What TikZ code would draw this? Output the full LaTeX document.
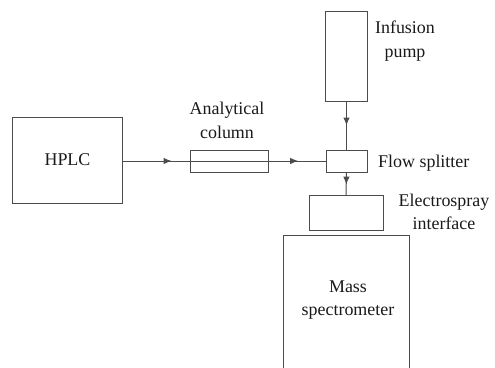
\documentclass[tikz,border=0pt]{standalone}
\usepackage{fontspec}
\setmainfont{Liberation Serif}
\usetikzlibrary{arrows.meta,decorations.markings}
\begin{document}
\begin{tikzpicture}[x=1bp,y=-1bp,
  box/.style={draw=black!70, line width=1bp, inner sep=0pt, outer sep=0pt},
  lbl/.style={font=\fontsize{18}{23.5}\selectfont, align=center, inner sep=0pt, text=black!90},
  flow/.style={draw=black!70, line width=1bp},
  midarrow/.style={postaction=decorate, decoration={markings, mark=at position #1 with {\arrow{Latex[length=8bp,width=6.5bp]}}}}
]
\useasboundingbox (0,0) rectangle (495,367);
% boxes
\node[box, lbl, minimum width=109bp, minimum height=86bp] (hplc) at (67.5,160) {HPLC};
\node[box, minimum width=78bp, minimum height=22bp] (col) at (229,161) {};
\node[box, minimum width=41bp, minimum height=22bp] (split) at (346.5,161) {};
\node[box, minimum width=42bp, minimum height=90bp] (pump) at (346.5,56) {};
\node[box, minimum width=74bp, minimum height=35bp] (es) at (346,212.5) {};
\coordinate (msbl) at (283,370);
\coordinate (msbr) at (409,370);
\draw[box] (msbl) -- (283,235) -- (409,235) -- (msbr);
% labels
\node[lbl] (collbl) at (227,120.5) {Analytical\\column};
\node[lbl] (pumplbl) at (405,41) {Infusion\\pump};
\node[lbl, anchor=base west] (splitlbl) at (378,167) {Flow splitter};
\node[lbl] (eslbl) at (444,212) {Electrospray\\interface};
\node[lbl] (mslbl) at (348,300) {Mass\\spectrometer};
% connectors
\draw[flow, midarrow=0.73] (hplc.east |- col.west) -- (col.west);
\draw[flow] (col.west) -- (col.east);
\draw[flow, midarrow=0.52] (col.east) -- (split.west);
\draw[flow, midarrow=0.5] (pump.south) -- (split.north);
\draw[flow, midarrow=0.55] (split.south) -- (es.north);
\end{tikzpicture}
\end{document}
